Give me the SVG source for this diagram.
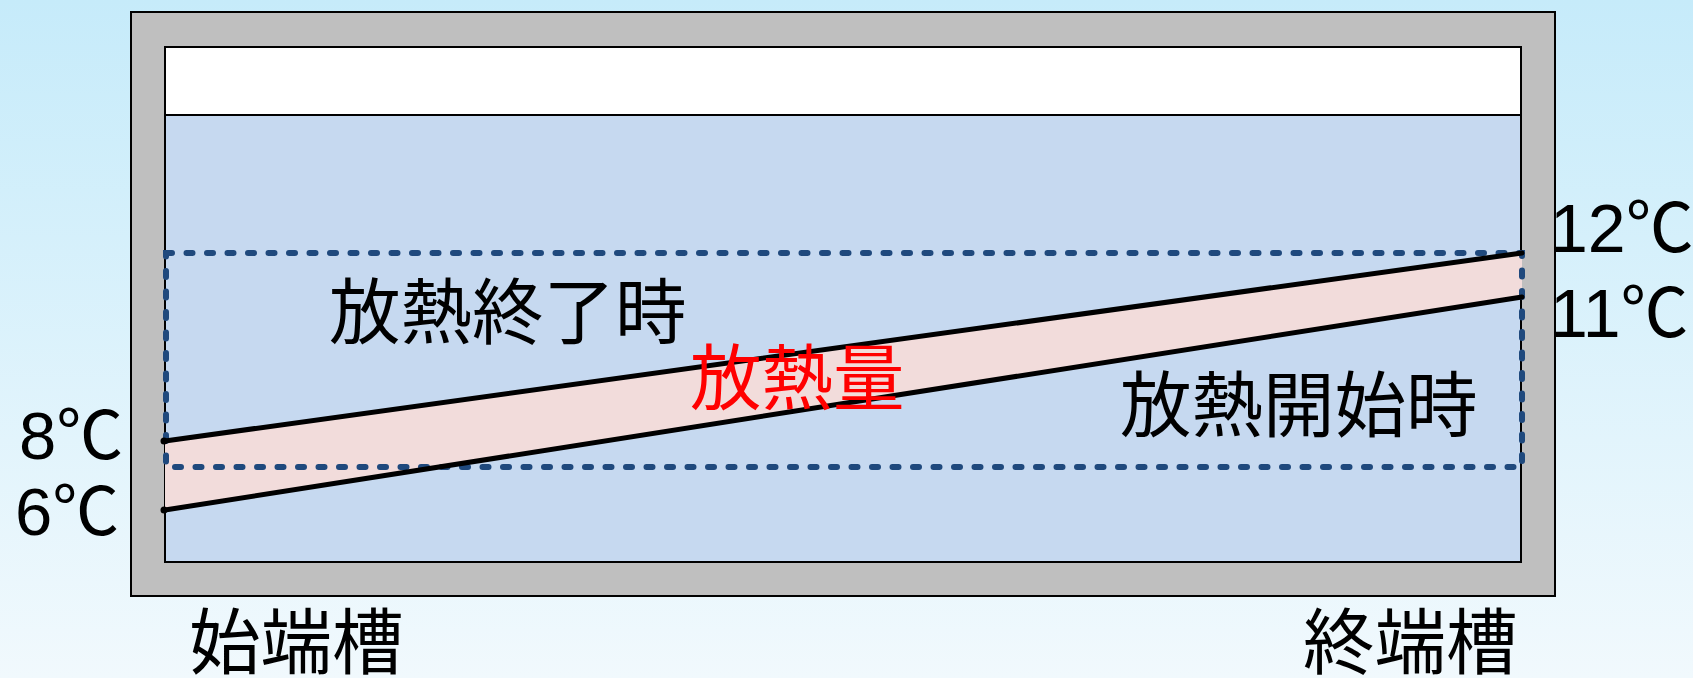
<svg xmlns="http://www.w3.org/2000/svg" width="1693" height="678" viewBox="0 0 1693 678">
<defs>
<linearGradient id="bg" x1="0" y1="0" x2="0" y2="1">
<stop offset="0" stop-color="#C6EBFA"/>
<stop offset="1" stop-color="#F1F9FD"/>
</linearGradient>
</defs>
<style>
.t{font-family:"Liberation Sans","Noto Sans CJK JP",sans-serif;fill:#000;}
.j{font-family:"Noto Sans CJK JP",sans-serif;fill:#000;font-size:71.5px;}
.ln{stroke:#000;stroke-width:5;fill:none;stroke-linecap:round;}
.dot{fill:#000;}
</style>
<rect width="1693" height="678" fill="url(#bg)"/>
<g id="tank">
<rect x="131" y="12" width="1424" height="584" fill="#BFBFBF" stroke="#000" stroke-width="2"/>
<rect x="165" y="47" width="1356" height="515" fill="#C6D9F0" stroke="#000" stroke-width="2"/>
<rect x="165" y="47" width="1356" height="68" fill="#FFFFFF" stroke="#000" stroke-width="2"/>
</g>
<g id="band">
<polygon points="165,441 1522,253 1522,297 165,510" fill="#F2DCDB"/>
</g>
<g id="zone">
<rect x="166" y="253" width="1356" height="214" fill="none" stroke="#1F497D" stroke-width="6" stroke-dasharray="6 14.5" stroke-linecap="round"/>
</g>
<g id="connectors">
<line class="ln" x1="165" y1="441" x2="1522" y2="253"/>
<line class="ln" x1="165" y1="510" x2="1522" y2="297"/>
<circle class="dot" cx="164" cy="441" r="3.5"/>
<circle class="dot" cx="164" cy="510" r="3.5"/>
</g>
<g id="labels">
<text class="t" x="1550" y="252" font-size="68">12℃</text>
<text class="t" x="1550" y="337" font-size="68">11℃</text>
<text class="t" x="19" y="459" font-size="67">8℃</text>
<text class="t" x="15" y="535" font-size="67">6℃</text>
<text class="j" x="329" y="338">放熱終了時</text>
<text class="j" x="690" y="404" style="fill:#FF0000">放熱量</text>
<text class="j" x="1120" y="431">放熱開始時</text>
<text class="j" x="189" y="668">始端槽</text>
<text class="j" x="1303" y="668">終端槽</text>
</g>
</svg>
